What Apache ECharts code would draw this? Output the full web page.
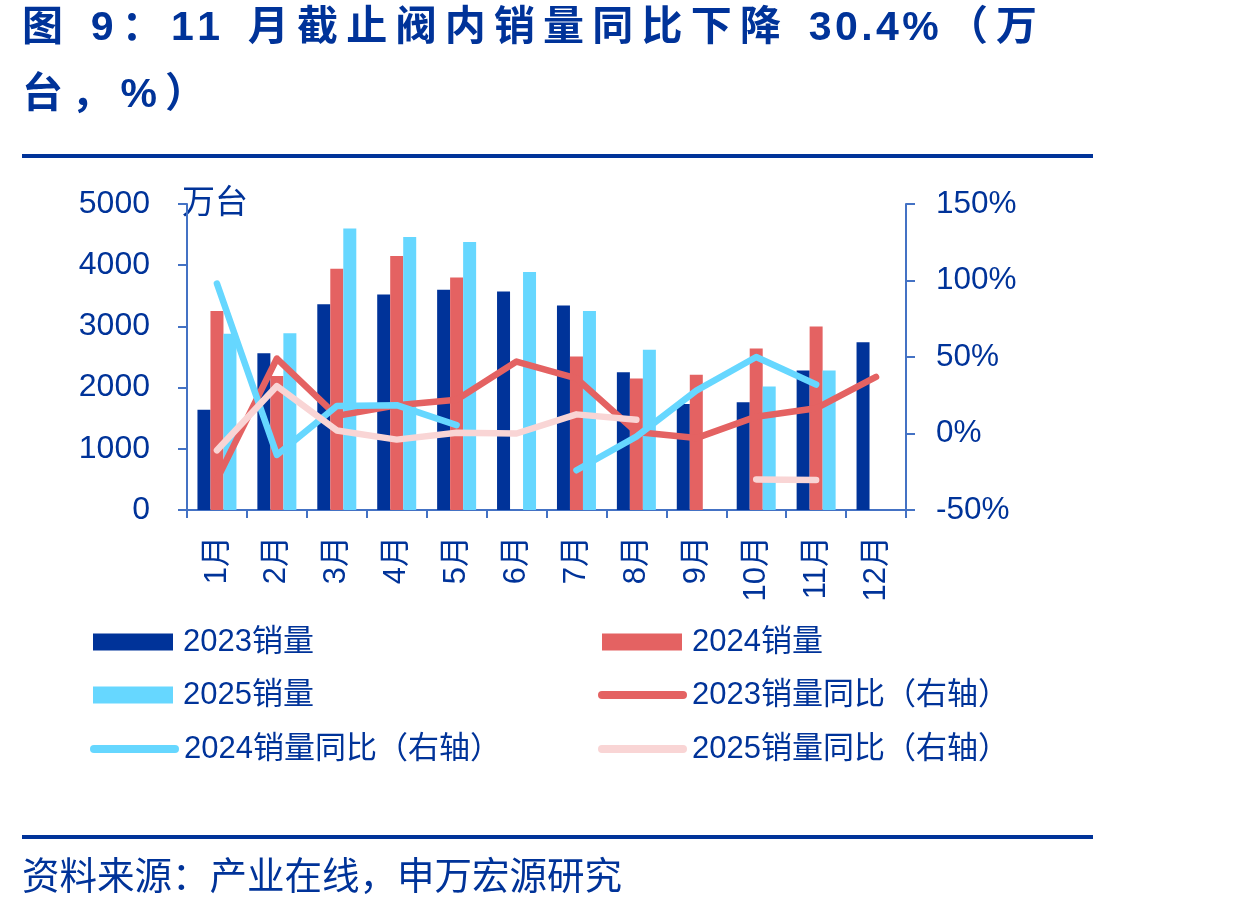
<!DOCTYPE html>
<html>
<head>
<meta charset="utf-8">
<script src="https://cdn.jsdelivr.net/npm/echarts@6/dist/echarts.min.js"></script>
<style>
html,body{margin:0;padding:0;background:#fff;}
#chart{width:1240px;height:913px;}
</style>
</head>
<body>
<div id="chart"></div>
<script>
// ---- data ----
const months = ['1月','2月','3月','4月','5月','6月','7月','8月','9月','10月','11月','12月'];
const sales2023 = [1640, 2560, 3360, 3520, 3600, 3570, 3340, 2250, 1730, 1760, 2280, 2740];
const sales2024 = [3250, 2190, 3940, 4150, 3800, null, 2510, 2150, 2210, 2640, 3000, null];
const sales2025 = [2880, 2890, 4600, 4460, 4380, 3890, 3250, 2620, null, 2020, 2280, null];
const yoy2023 = [-30, 49, 11.5, 18.5, 22, 47, 36, 1, -3, 11, 16.5, 37];
const yoy2024 = [98, -14, 18, 18.5, 5.5, null, -24, -2, 28, 50, 32, null];
const yoy2025 = [-11, 31, 2, -4, 0.5, 0, 12.5, 9, null, -30, -30.4, null];
const leftTicks = [0, 1000, 2000, 3000, 4000, 5000];
const rightTicks = [-50, 0, 50, 100, 150];
const titleLines = ['图 9：11 月截止阀内销量同比下降 30.4%（万', '台，%）'];
const sourceText = '资料来源：产业在线，申万宏源研究';
const names = ['2023销量','2024销量','2025销量','2023销量同比（右轴）','2024销量同比（右轴）','2025销量同比（右轴）'];

// ---- style ----
const NAVY = '#003399';
const RED = '#E46262';
const CYAN = '#66D7FF';
const PINK = '#F9D5D5';
const AXIS = '#4472C4';
const FONT = '"Liberation Sans", "Noto Sans CJK SC", sans-serif';
// tracking for the title: thin space around wide chars, hair space between latin chars
function spaced(s) {
  const chars = Array.from(s);
  let out = chars[0];
  const isAscii = c => c.charCodeAt(0) < 128 && c !== ' ';
  for (let i = 1; i < chars.length; i++) {
    const a = chars[i-1], b = chars[i];
    out += (isAscii(a) && isAscii(b)) ? '\u200A' : '\u2009';
    out += b;
  }
  return out;
}

const chart = echarts.init(document.getElementById('chart'), null, {renderer: 'canvas'});

const capsule = 'path://M4,0H85A4,4 0 0 1 85,8H4A4,4 0 0 1 4,0Z';
function legendItem(name, left, centerY, isLine) {
  return {
    data: [{name: name, icon: isLine ? capsule : 'rect'}],
    left: left, top: centerY - 17,
    padding: 0,
    itemWidth: isLine ? 89 : 80,
    itemHeight: isLine ? 8 : 17,
    itemGap: 0,
    selectedMode: false,
    textStyle: {color: NAVY, fontSize: 31, fontFamily: FONT, lineHeight: 34,
                padding: isLine ? [0,0,0,0] : [0,0,0,5]}
  };
}

const option = {
  animation: false,
  backgroundColor: '#fff',
  grid: {left: 187, right: 334, top: 204, bottom: 403, containLabel: false},
  legend: [
    legendItem(names[0], 93, 642, false),
    legendItem(names[1], 602, 642, false),
    legendItem(names[2], 93, 695, false),
    legendItem(names[3], 598, 695, true),
    legendItem(names[4], 90, 749, true),
    legendItem(names[5], 598, 749, true)
  ],
  xAxis: {
    type: 'category',
    data: months,
    axisLine: {lineStyle: {color: AXIS, width: 2}},
    axisTick: {show: true, length: 8, lineStyle: {color: AXIS, width: 2}},
    axisLabel: {rotate: 90, margin: 26, color: NAVY, fontSize: 31, fontFamily: FONT, interval: 0}
  },
  yAxis: [
    {
      type: 'value', min: leftTicks[0], max: leftTicks[leftTicks.length-1], interval: 1000,
      name: '万台', nameLocation: 'end', nameGap: 0,
      nameTextStyle: {color: NAVY, fontSize: 33, fontFamily: FONT, align: 'left', verticalAlign: 'middle', padding: [0,0,0,-5]},
      axisLine: {show: true, lineStyle: {color: AXIS, width: 2}},
      axisTick: {show: true, length: 9, lineStyle: {color: AXIS, width: 2}},
      axisLabel: {margin: 37, color: NAVY, fontSize: 32, fontFamily: FONT, formatter: v => String(v)},
      splitLine: {show: false}
    },
    {
      type: 'value', min: rightTicks[0], max: rightTicks[rightTicks.length-1], interval: 50,
      position: 'right',
      axisLine: {show: true, lineStyle: {color: AXIS, width: 2}},
      axisTick: {show: true, length: 9, lineStyle: {color: AXIS, width: 2}},
      axisLabel: {margin: 30, color: NAVY, fontSize: 31.5, fontFamily: FONT, formatter: '{value}%'},
      splitLine: {show: false}
    }
  ],
  series: [
    {name: names[0], type: 'bar', data: sales2023, barWidth: 13, barGap: '0%', itemStyle: {color: NAVY}},
    {name: names[1], type: 'bar', data: sales2024, barWidth: 13, barGap: '0%', itemStyle: {color: RED}},
    {name: names[2], type: 'bar', data: sales2025, barWidth: 13, barGap: '0%', itemStyle: {color: CYAN}},
    {name: names[3], type: 'line', yAxisIndex: 1, data: yoy2023, symbol: 'none', z: 3,
     lineStyle: {color: RED, width: 6.5, cap: 'round', join: 'round'}, itemStyle: {color: RED}},
    {name: names[4], type: 'line', yAxisIndex: 1, data: yoy2024, symbol: 'none', z: 4,
     lineStyle: {color: CYAN, width: 6.5, cap: 'round', join: 'round'}, itemStyle: {color: CYAN}},
    {name: names[5], type: 'line', yAxisIndex: 1, data: yoy2025, symbol: 'none', z: 5,
     lineStyle: {color: PINK, width: 6.5, cap: 'round', join: 'round'}, itemStyle: {color: PINK}}
  ],
  graphic: [
    {type: 'text', left: 22, top: 8, style: {text: spaced(titleLines[0]), fill: NAVY, font: 'bold 41px ' + FONT}},
    {type: 'text', left: 22, top: 75, style: {text: spaced(titleLines[1]), fill: NAVY, font: 'bold 41px ' + FONT}},
    {type: 'rect', shape: {x: 22, y: 154, width: 1071, height: 4}, style: {fill: NAVY}},
    {type: 'rect', shape: {x: 22, y: 835, width: 1071, height: 4}, style: {fill: NAVY}},
    {type: 'text', left: 22, top: 860, style: {text: sourceText, fill: NAVY, font: '37.5px ' + FONT}}
  ]
};
chart.setOption(option);
</script>
</body>
</html>
